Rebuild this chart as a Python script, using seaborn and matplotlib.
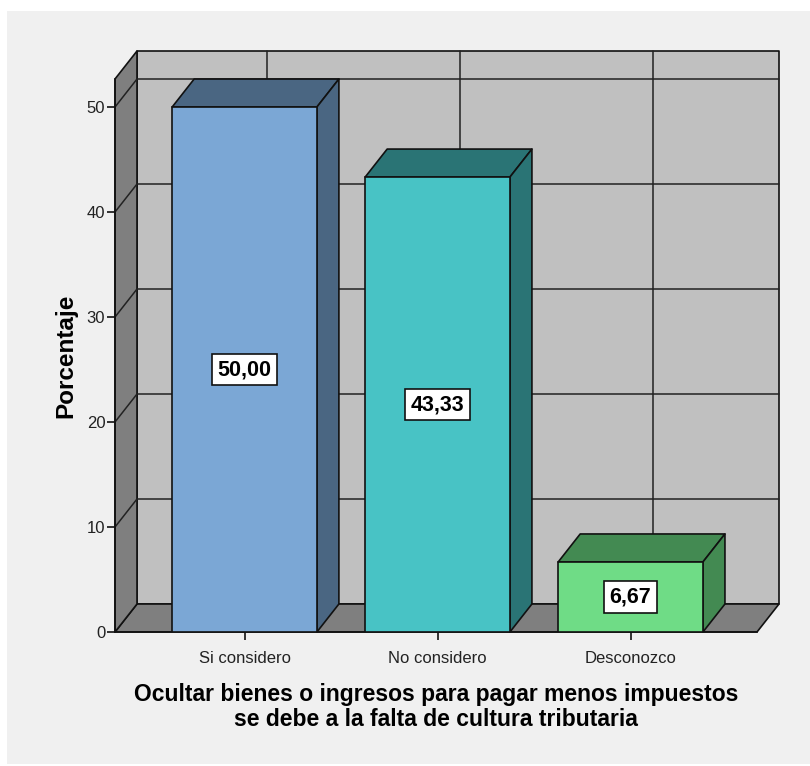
import matplotlib
matplotlib.use("Agg")
import matplotlib.pyplot as plt
import seaborn as sns
from matplotlib.patches import Polygon, Rectangle
from matplotlib.lines import Line2D

# Survey answers and their percentages
categories = ["Si considero", "No considero", "Desconozco"]
percentages = [50.00, 43.33, 6.67]
y_ticks = [0, 10, 20, 30, 40, 50]
x_title = ("Ocultar bienes o ingresos para pagar menos impuestos\n"
           "se debe a la falta de cultura tributaria")
y_title = "Porcentaje"

front_colors = ["#7ba7d5", "#48c3c5", "#6fdc86"]
shade_colors = ["#4a6682", "#2a7475", "#438a52"]
back_wall_color = "#c0c0c0"
side_wall_color = "#7f7f7f"
edge = "#111111"

sns.set_theme(style="ticks")
plt.rcParams["font.family"] = ["Liberation Sans", "DejaVu Sans"]

W, H = 810, 766
fig = plt.figure(figsize=(W / 100, H / 100), dpi=100)
fig.patch.set_facecolor("white")
fig.add_artist(Rectangle((7 / W, 2 / H), 1, (764 - 11) / H,
                         transform=fig.transFigure, facecolor="#f0f0f0",
                         edgecolor="none", zorder=0))

# front plane of the 3D box
ax = fig.add_axes([115 / W, (H - 632) / H, 642 / W, 553 / H])
ax.patch.set_visible(False)
x0, x1 = -0.671, 2.655
y0, y1 = 0, 52.67

sns.barplot(x=categories, y=percentages, hue=categories, palette=front_colors,
            saturation=1, width=0.75, edgecolor=edge, linewidth=1.2,
            legend=False, ax=ax, zorder=4)
ax.set_xlim(x0, x1)
ax.set_ylim(y0, y1)

# depth of the box: a fixed screen offset expressed in data units
inv = ax.transData.inverted()
p0 = ax.transData.transform((0, 0))
dx, dy = inv.transform(p0 + [22, 28]) - inv.transform(p0)

common = dict(clip_on=False, linewidth=1.2, edgecolor=edge, joinstyle="round")
# back wall
ax.add_patch(Rectangle((x0 + dx, y0 + dy), x1 - x0, y1 - y0,
                       facecolor=back_wall_color, zorder=1, **common))
# floor
ax.add_patch(Polygon([(x0, 0), (x1, 0), (x1 + dx, dy), (x0 + dx, dy)],
                     facecolor=side_wall_color, zorder=1.5, **common))
# left wall
ax.add_patch(Polygon([(x0, 0), (x0, y1), (x0 + dx, y1 + dy), (x0 + dx, dy)],
                     facecolor=side_wall_color, zorder=1.5, **common))

grid_kw = dict(color="#222222", linewidth=1.1, clip_on=False, zorder=2)
for t in y_ticks[1:]:
    ax.add_line(Line2D([x0 + dx, x1 + dx], [t + dy, t + dy], **grid_kw))
    ax.add_line(Line2D([x0, x0 + dx], [t, t + dy], **grid_kw))
for i in range(len(categories)):
    ax.add_line(Line2D([i + dx, i + dx], [dy, y1 + dy], **grid_kw))

# top and side faces of each bar, plus value labels
bars = [b for c in ax.containers for b in c]
for bar, shade, val in zip(bars, shade_colors, percentages):
    xl, w, h = bar.get_x(), bar.get_width(), bar.get_height()
    ax.add_patch(Polygon([(xl, h), (xl + w, h), (xl + w + dx, h + dy), (xl + dx, h + dy)],
                         facecolor=shade, zorder=3.5, **common))
    ax.add_patch(Polygon([(xl + w, 0), (xl + w + dx, dy), (xl + w + dx, h + dy), (xl + w, h)],
                         facecolor=shade, zorder=3.5, **common))
    ax.text(xl + w / 2, val / 2, f"{val:.2f}".replace(".", ","),
            ha="center", va="center", fontsize=15.5, fontweight="bold",
            color="black", zorder=6,
            bbox=dict(boxstyle="square,pad=0.25", facecolor="white",
                      edgecolor=edge, linewidth=1.2))

ax.set_yticks(y_ticks)
for side in ("top", "right"):
    ax.spines[side].set_visible(False)
for side in ("left", "bottom"):
    ax.spines[side].set_color(edge)
    ax.spines[side].set_linewidth(1.2)
    ax.spines[side].set_zorder(3)
ax.tick_params(axis="both", direction="out", length=6, width=1.2, color=edge,
               labelsize=12, labelcolor="#222222", bottom=True, left=True)
ax.tick_params(axis="x", pad=8)
ax.tick_params(axis="y", pad=1)

ax.set_xlabel(x_title, fontsize=16.5, fontweight="bold", color="black",
              linespacing=1.08, labelpad=12)
ax.set_ylabel(y_title, fontsize=17.5, fontweight="bold", color="black",
              labelpad=7)

fig.savefig("out.png", dpi=100, facecolor=fig.get_facecolor())
